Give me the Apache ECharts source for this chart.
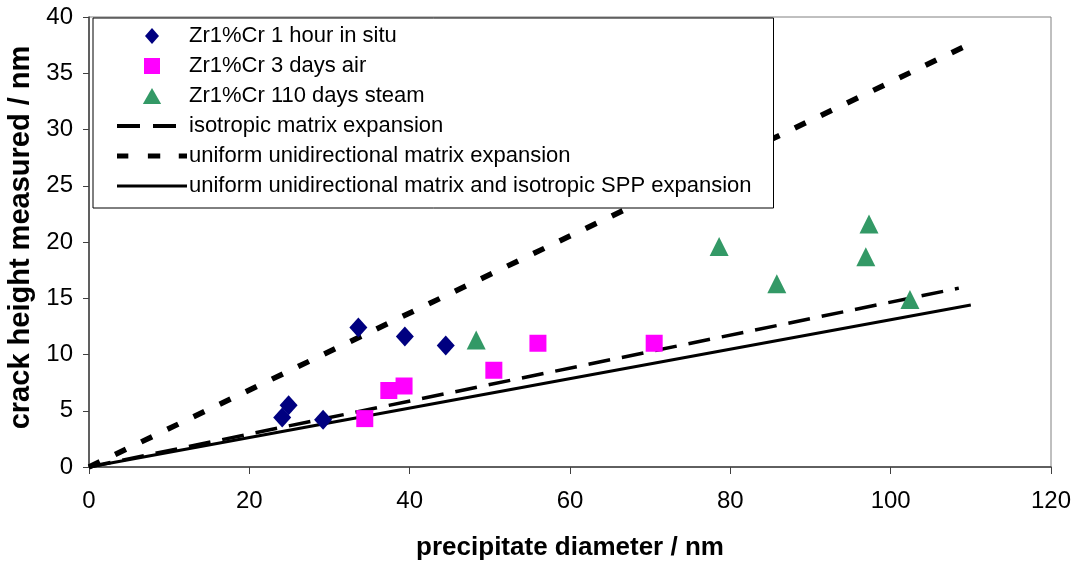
<!DOCTYPE html>
<html>
<head>
<meta charset="utf-8">
<script src="https://cdn.jsdelivr.net/npm/echarts@6/dist/echarts.min.js"></script>
<style>
  html, body { margin: 0; padding: 0; background: #fff; }
  #chart { width: 1075px; height: 562px; }
</style>
</head>
<body>
<div id="chart"></div>
<script>
// measured points (precipitate diameter / crack height, nm)
const insituX = [24.1, 24.9, 29.2, 33.6, 39.4, 44.5]
const insituY = [4.4, 5.5, 4.2, 12.4, 11.6, 10.8]
const airX = [34.4, 37.4, 39.3, 50.5, 56.0, 70.5]
const airY = [4.3, 6.8, 7.2, 8.6, 11.0, 11.0]
const steamX = [48.3, 78.6, 85.8, 96.9, 97.3, 102.4]
const steamY = [11.3, 19.6, 16.3, 18.7, 21.6, 14.9]

// model lines, read from their end points
const isoX = [0, 108.5]
const isoY = [0, 15.9]
const uniX = [0, 109]
const uniY = [0, 37.3]
const sppX = [0, 110]
const sppY = [0, 14.4]

const names = [
  'Zr1%Cr 1 hour in situ',
  'Zr1%Cr 3 days air',
  'Zr1%Cr 110 days steam',
  'isotropic matrix expansion',
  'uniform unidirectional matrix expansion',
  'uniform unidirectional matrix and isotropic SPP expansion'
]

const pairs = (xs, ys) => xs.map((x, i) => [x, ys[i]])
const font = '"Liberation Sans", Arial, sans-serif'

// legend icons: keep marker shapes square, hide the dot on line items
const legendData = [
  { name: names[0], icon: 'path://M7,0L14,8L7,16L0,8Z' },
  { name: names[1], icon: 'path://M0,0h14v14h-14Z' },
  { name: names[2], icon: 'path://M8,0L16,14L0,14Z' },
  { name: names[3], itemStyle: { opacity: 0 }, lineStyle: { width: 4, type: [23, 13], cap: 'butt' } },
  { name: names[4], icon: 'path://M0,0h11v5h-11Z M30,0h12v5h-12Z M60,0h8v5h-8Z' },
  { name: names[5], itemStyle: { opacity: 0 }, lineStyle: { width: 3 } }
]

const chart = echarts.init(document.getElementById('chart'))
chart.setOption({
  animation: false,
  textStyle: { fontFamily: font, color: '#000' },
  grid: {
    left: 89, top: 17, width: 962, height: 450,
    outerBoundsMode: 'none',
    show: true, borderColor: '#808080', borderWidth: 1, backgroundColor: '#fff'
  },
  legend: {
    orient: 'vertical',
    left: 93, top: 18,
    padding: [7, 22, 11, 22],
    itemWidth: 70,
    itemHeight: 16,
    itemGap: 8,
    backgroundColor: '#fff',
    borderColor: '#000',
    borderWidth: 1,
    textStyle: { fontSize: 22, color: '#000', fontFamily: font, padding: [0, 0, 0, -3] },
    data: legendData
  },
  xAxis: {
    type: 'value', min: 0, max: 120, interval: 20,
    name: 'precipitate diameter / nm', nameLocation: 'middle', nameGap: 68,
    nameTextStyle: { fontSize: 26, fontWeight: 'bold', color: '#000' },
    axisLine: { lineStyle: { color: '#404040', width: 1.5 } },
    axisTick: { show: true, length: 7, lineStyle: { color: '#404040' } },
    axisLabel: { fontSize: 24, color: '#000', margin: 22 },
    splitLine: { show: false }
  },
  yAxis: {
    type: 'value', min: 0, max: 40, interval: 5,
    name: 'crack height measured / nm', nameLocation: 'middle', nameGap: 47,
    nameTextStyle: { fontSize: 29, fontWeight: 'bold', color: '#000', padding: [0, 0, 0, 9] },
    axisLine: { show: true, lineStyle: { color: '#404040', width: 1.5 } },
    axisTick: { show: true, length: 6, lineStyle: { color: '#404040' } },
    axisLabel: { fontSize: 24, color: '#000', margin: 16 },
    splitLine: { show: false }
  },
  series: [
    {
      name: names[0], type: 'scatter', symbol: 'diamond', symbolSize: [18, 20],
      itemStyle: { color: '#000080', opacity: 1 }, data: pairs(insituX, insituY), z: 5
    },
    {
      name: names[1], type: 'scatter', symbol: 'rect', symbolSize: 17,
      itemStyle: { color: '#FF00FF', opacity: 1 }, data: pairs(airX, airY), z: 5
    },
    {
      name: names[2], type: 'scatter', symbol: 'triangle', symbolSize: 19,
      itemStyle: { color: '#339966', opacity: 1 }, data: pairs(steamX, steamY), z: 5
    },
    {
      name: names[3], type: 'line', symbol: 'none', color: '#000',
      lineStyle: { color: '#000', width: 3.5, type: [22, 12] },
      data: pairs(isoX, isoY), z: 3
    },
    {
      name: names[4], type: 'line', symbol: 'none', color: '#000',
      lineStyle: { color: '#000', width: 5.5, type: [12, 17] },
      data: pairs(uniX, uniY), z: 3
    },
    {
      name: names[5], type: 'line', symbol: 'none', color: '#000',
      lineStyle: { color: '#000', width: 3 },
      data: pairs(sppX, sppY), z: 3
    }
  ]
})
</script>
</body>
</html>
